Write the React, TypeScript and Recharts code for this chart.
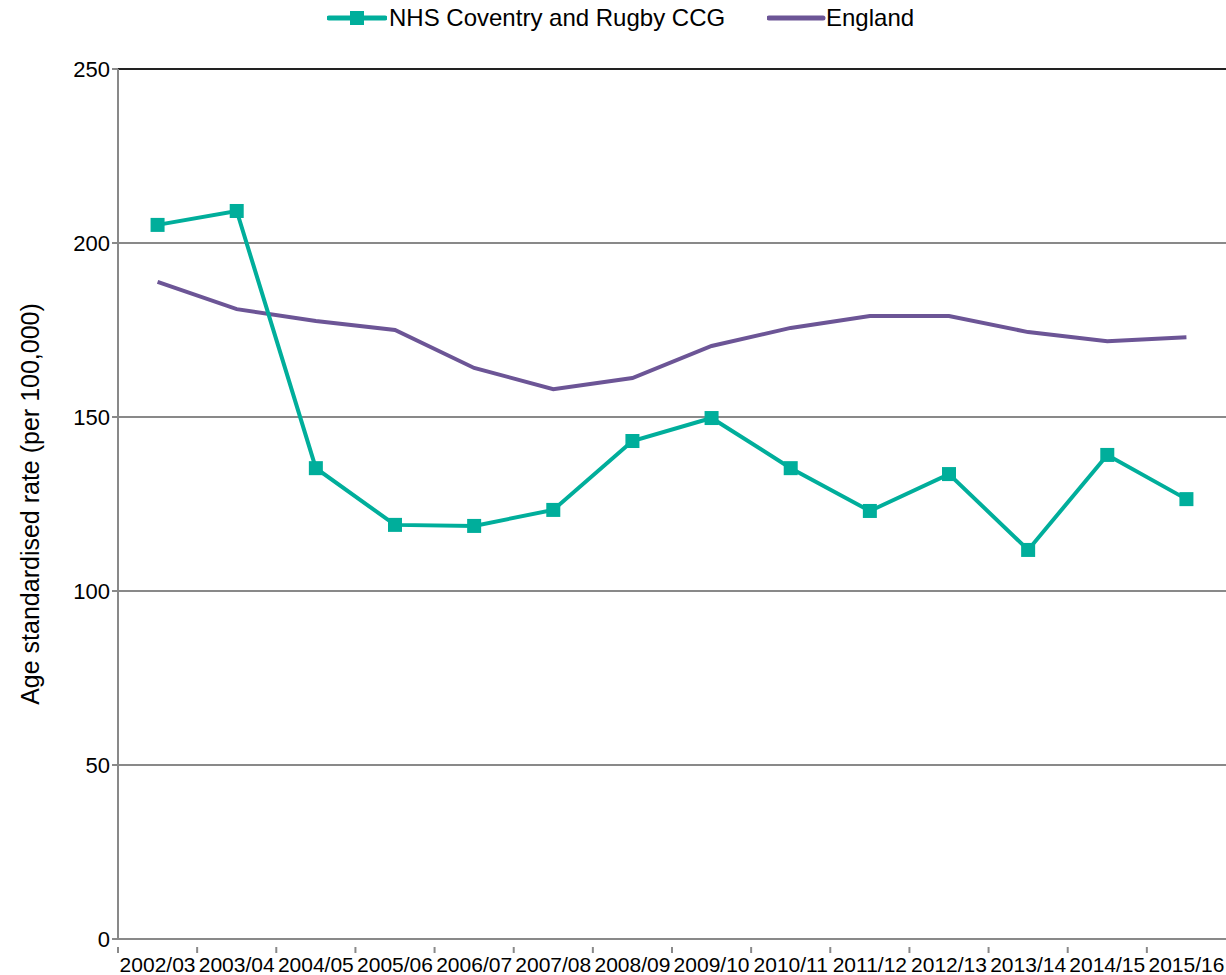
import React from 'react'
import { LineChart, Line, XAxis, YAxis, CartesianGrid, ReferenceLine, Label } from 'recharts'

const categories = [
  '2002/03', '2003/04', '2004/05', '2005/06', '2006/07', '2007/08', '2008/09',
  '2009/10', '2010/11', '2011/12', '2012/13', '2013/14', '2014/15', '2015/16',
]
const ccgRates = [205.2, 209.2, 135.3, 119.0, 118.7, 123.3, 143.1, 149.7, 135.3, 123.0, 133.6, 111.8, 139.1, 126.4]
const englandRates = [188.8, 181.0, 177.6, 175.0, 164.1, 158.0, 161.2, 170.4, 175.6, 179.0, 179.0, 174.4, 171.8, 172.9]
const yTicks = [0, 50, 100, 150, 200, 250]

const CCG_NAME = 'NHS Coventry and Rugby CCG'
const ENGLAND_NAME = 'England'

const TEAL = '#00AE9B'
const PURPLE = '#6C5596'
const GRID = '#898989'
const FONT = '"Liberation Sans", Arial, sans-serif'

const WIDTH = 1226
const HEIGHT = 975
const Y_AXIS_W = 118
const BAND = (WIDTH - Y_AXIS_W) / categories.length

const data = categories.map((c, i) => ({ year: c, ccg: ccgRates[i], england: englandRates[i] }))

const SquareDot = (props: any) => {
  const { cx, cy } = props
  if (cx == null || cy == null) return null
  return <rect x={cx - 7} y={cy - 7} width={14} height={14} fill={TEAL} />
}

const XTick = (props: any) => {
  const { x, y, payload } = props
  const left = x - BAND / 2
  return (
    <g>
      <line x1={left} y1={y} x2={left} y2={y + 6} stroke={GRID} strokeWidth={2} />
      <text x={x} y={y + 25} textAnchor="middle" fontSize={21} fill="#000" fontFamily={FONT}>
        {payload.value}
      </text>
    </g>
  )
}

const YLabel = () => {
  const cx = 30
  const cy = 504
  return (
    <text
      x={cx}
      y={cy}
      transform={`rotate(-90 ${cx} ${cy})`}
      textAnchor="middle"
      dominantBaseline="central"
      fontSize={25}
      fill="#000"
      fontFamily={FONT}
    >
      Age standardised rate (per 100,000)
    </text>
  )
}

export default function App() {
  return (
    <div style={{ position: 'absolute', left: 0, top: 0, width: WIDTH, height: HEIGHT, background: '#fff', fontFamily: FONT }}>
      <LineChart width={WIDTH} height={HEIGHT} data={data} margin={{ top: 69, right: 0, bottom: 0, left: 0 }}>
        <CartesianGrid vertical={false} stroke={GRID} strokeWidth={2} />
        <XAxis
          dataKey="year"
          scale="band"
          interval={0}
          height={36}
          tickLine={false}
          axisLine={{ stroke: GRID, strokeWidth: 2 }}
          tick={<XTick />}
        />
        <YAxis
          domain={[0, 250]}
          ticks={yTicks}
          width={Y_AXIS_W}
          tickSize={6}
          tickMargin={2}
          tickLine={{ stroke: GRID, strokeWidth: 2 }}
          axisLine={{ stroke: GRID, strokeWidth: 2 }}
          tick={{ fontSize: 22, fill: '#000', fontFamily: FONT }}
        >
          <Label content={<YLabel />} />
        </YAxis>
        <ReferenceLine y={250} stroke="#222" strokeWidth={2} />
        <Line
          type="linear"
          dataKey="england"
          stroke={PURPLE}
          strokeWidth={4}
          dot={false}
          isAnimationActive={false}
        />
        <Line
          type="linear"
          dataKey="ccg"
          stroke={TEAL}
          strokeWidth={4}
          dot={<SquareDot />}
          isAnimationActive={false}
        />
      </LineChart>
      <div style={{ position: 'absolute', left: 0, top: 0, width: WIDTH, height: 36, fontSize: 24, color: '#000' }}>
        <svg style={{ position: 'absolute', left: 327, top: 8 }} width={60} height={20}>
          <line x1={2} y1={10} x2={58} y2={10} stroke={TEAL} strokeWidth={5} strokeLinecap="round" />
          <rect x={23} y={3} width={14} height={14} fill={TEAL} />
        </svg>
        <span style={{ position: 'absolute', left: 389, top: 4, lineHeight: '28px', whiteSpace: 'nowrap' }}>{CCG_NAME}</span>
        <svg style={{ position: 'absolute', left: 767, top: 8 }} width={60} height={20}>
          <line x1={2} y1={10} x2={56} y2={10} stroke={PURPLE} strokeWidth={5} strokeLinecap="round" />
        </svg>
        <span style={{ position: 'absolute', left: 826, top: 4, lineHeight: '28px', whiteSpace: 'nowrap' }}>{ENGLAND_NAME}</span>
      </div>
    </div>
  )
}
